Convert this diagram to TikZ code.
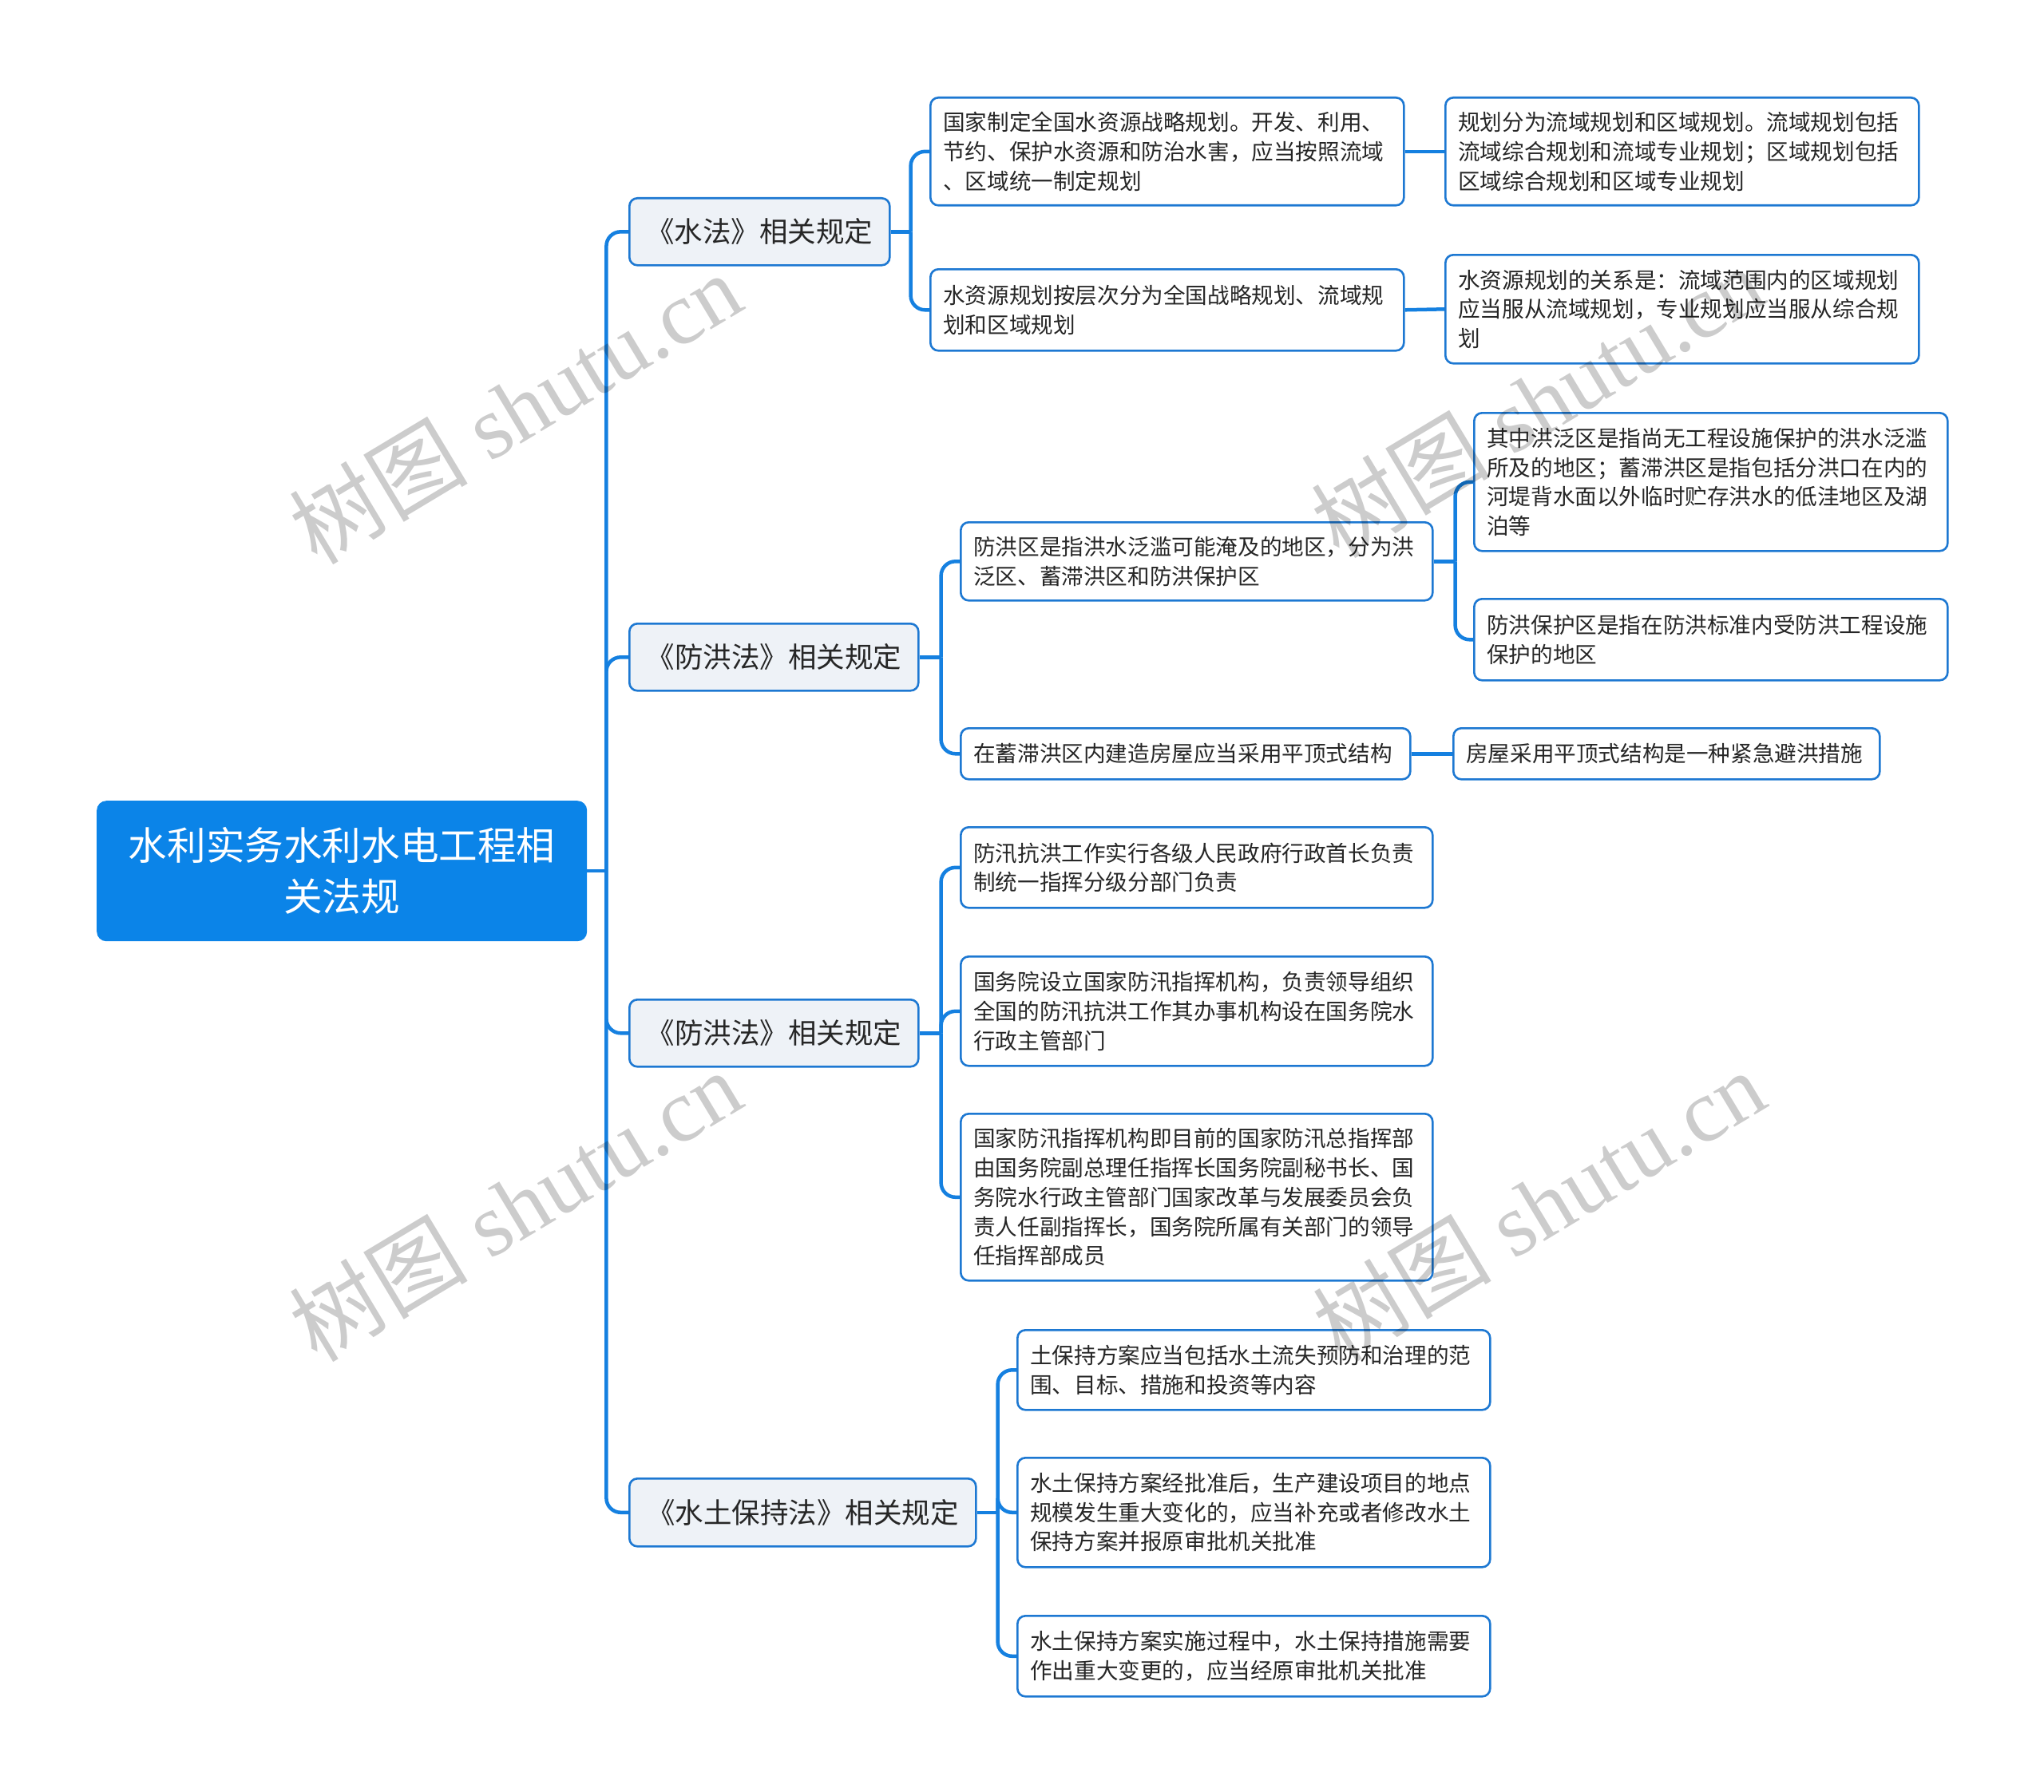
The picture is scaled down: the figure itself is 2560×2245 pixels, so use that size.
\documentclass[tikz,border=0pt]{standalone}
\usepackage{fontspec}
\setmainfont{Liberation Serif}
\newfontfamily\cjkfont{Noto Sans CJK SC}
\newfontfamily\wmlatin{Liberation Serif}
\definecolor{rootblue}{HTML}{0B84E8}
\definecolor{linkblue}{HTML}{1580E0}
\definecolor{edgeblue}{HTML}{1D78D2}
\definecolor{branchfill}{HTML}{EEF2F7}
\definecolor{txt}{HTML}{262626}
\tikzset{
  boxbase/.style={draw=edgeblue, line width=2.6pt, rounded corners=10pt, text=txt,
    inner ysep=0pt, anchor=north west},
  leaf/.style={boxbase, fill=white, inner xsep=16pt, align=left,
    font=\cjkfont\fontsize{27.6}{36.7}\selectfont},
  branch/.style={boxbase, fill=branchfill, inner xsep=0pt, align=center,
    font=\cjkfont\fontsize{35.5}{44}\selectfont},
  rootbox/.style={fill=rootblue, draw=none, rounded corners=12pt, text=white,
    inner sep=0pt, align=center, anchor=north west,
    font=\cjkfont\fontsize{48.6}{64}\selectfont},
  conn/.style={draw=linkblue, line width=4.5pt, rounded corners=18pt},
  wm/.style={text=black, opacity=0.2, rotate=31,
    font=\wmlatin\fontsize{112}{112}\selectfont},
}
\begin{document}
\begin{tikzpicture}[x=1pt, y=-1pt]
\fill[white] (0,0) rectangle (2560,2245);
\useasboundingbox (0,0) rectangle (2560,2245);

% root
\node[rootbox, minimum width=614, minimum height=176] (root) at (121,1003)
  {水利实务水利水电工程相\\关法规};

% branches
\node[branch, minimum width=326, minimum height=84] (b1) at (787,247) {《水法》相关规定};
\node[branch, minimum width=362, minimum height=84] (b2) at (787,780) {《防洪法》相关规定};
\node[branch, minimum width=362, minimum height=84] (b3) at (787,1251) {《防洪法》相关规定};
\node[branch, minimum width=434, minimum height=85] (b4) at (787,1851) {《水土保持法》相关规定};

% level 2 and 3 (水法)
\node[leaf, text width=561, minimum height=135] (l1a) at (1164,121)
  {国家制定全国水资源战略规划。开发、利用、\\节约、保护水资源和防治水害，应当按照流域\\、区域统一制定规划};
\node[leaf, text width=561, minimum height=102] (l1b) at (1164,336)
  {水资源规划按层次分为全国战略规划、流域规\\划和区域规划};
\node[leaf, text width=561, minimum height=135] (l1a2) at (1809,121)
  {规划分为流域规划和区域规划。流域规划包括\\流域综合规划和流域专业规划；区域规划包括\\区域综合规划和区域专业规划};
\node[leaf, text width=561, minimum height=136] (l1b2) at (1809,318)
  {水资源规划的关系是：流域范围内的区域规划\\应当服从流域规划，专业规划应当服从综合规\\划};

% 防洪法 (1)
\node[leaf, text width=559, minimum height=98] (l2a) at (1202,653)
  {防洪区是指洪水泛滥可能淹及的地区，分为洪\\泛区、蓄滞洪区和防洪保护区};
\node[leaf, text width=561, minimum height=173] (l2a1) at (1845,516)
  {其中洪泛区是指尚无工程设施保护的洪水泛滥\\所及的地区；蓄滞洪区是指包括分洪口在内的\\河堤背水面以外临时贮存洪水的低洼地区及湖\\泊等};
\node[leaf, text width=561, minimum height=102] (l2a2) at (1845,749)
  {防洪保护区是指在防洪标准内受防洪工程设施\\保护的地区};
\node[leaf, text width=531, minimum height=64] (l2b) at (1202,911)
  {在蓄滞洪区内建造房屋应当采用平顶式结构};
\node[leaf, text width=502, minimum height=64] (l2b1) at (1819,911)
  {房屋采用平顶式结构是一种紧急避洪措施};

% 防洪法 (2)
\node[leaf, text width=559, minimum height=101] (l3a) at (1202,1035)
  {防汛抗洪工作实行各级人民政府行政首长负责\\制统一指挥分级分部门负责};
\node[leaf, text width=559, minimum height=137] (l3b) at (1202,1197)
  {国务院设立国家防汛指挥机构，负责领导组织\\全国的防汛抗洪工作其办事机构设在国务院水\\行政主管部门};
\node[leaf, text width=559, minimum height=209] (l3c) at (1202,1394)
  {国家防汛指挥机构即目前的国家防汛总指挥部\\由国务院副总理任指挥长国务院副秘书长、国\\务院水行政主管部门国家改革与发展委员会负\\责人任副指挥长，国务院所属有关部门的领导\\任指挥部成员};

% 水土保持法
\node[leaf, text width=560, minimum height=100] (l4a) at (1273,1665)
  {土保持方案应当包括水土流失预防和治理的范\\围、目标、措施和投资等内容};
\node[leaf, text width=560, minimum height=137] (l4b) at (1273,1825)
  {水土保持方案经批准后，生产建设项目的地点\\规模发生重大变化的，应当补充或者修改水土\\保持方案并报原审批机关批准};
\node[leaf, text width=560, minimum height=101] (l4c) at (1273,2023)
  {水土保持方案实施过程中，水土保持措施需要\\作出重大变更的，应当经原审批机关批准};

% connectors
\coordinate (jr) at ([xshift=24]root.east);
\draw[conn] (root.east) -- (jr);
\foreach \n in {b1,b2,b3,b4} \draw[conn] (jr) |- (\n.west);

\coordinate (j1) at ([xshift=25]b1.east);
\draw[conn] (b1.east) -- (j1);
\foreach \n in {l1a,l1b} \draw[conn] (j1) |- (\n.west);
\draw[conn] (l1a.east) -- (l1a2.west);
\draw[conn] (l1b.east) -- (l1b2.west);

\coordinate (j2) at ([xshift=27]b2.east);
\draw[conn] (b2.east) -- (j2);
\foreach \n in {l2a,l2b} \draw[conn] (j2) |- (\n.west);
\coordinate (j2a) at ([xshift=27]l2a.east);
\draw[conn] (l2a.east) -- (j2a);
\foreach \n in {l2a1,l2a2} \draw[conn] (j2a) |- (\n.west);
\draw[conn] (l2b.east) -- (l2b1.west);

\coordinate (j3) at ([xshift=27]b3.east);
\draw[conn] (b3.east) -- (j3);
\foreach \n in {l3a,l3b,l3c} \draw[conn] (j3) |- (\n.west);

\coordinate (j4) at ([xshift=26]b4.east);
\draw[conn] (b4.east) -- (j4);
\foreach \n in {l4a,l4b,l4c} \draw[conn] (j4) |- (\n.west);

% watermarks
\node[wm] (wm1) at (645,511) {{\cjkfont 树图} shutu.cn};
\node[wm] (wm2) at (1925,503) {{\cjkfont 树图} shutu.cn};
\node[wm] (wm3) at (645,1510) {{\cjkfont 树图} shutu.cn};
\node[wm] (wm4) at (1927,1510) {{\cjkfont 树图} shutu.cn};
\end{tikzpicture}
\end{document}
